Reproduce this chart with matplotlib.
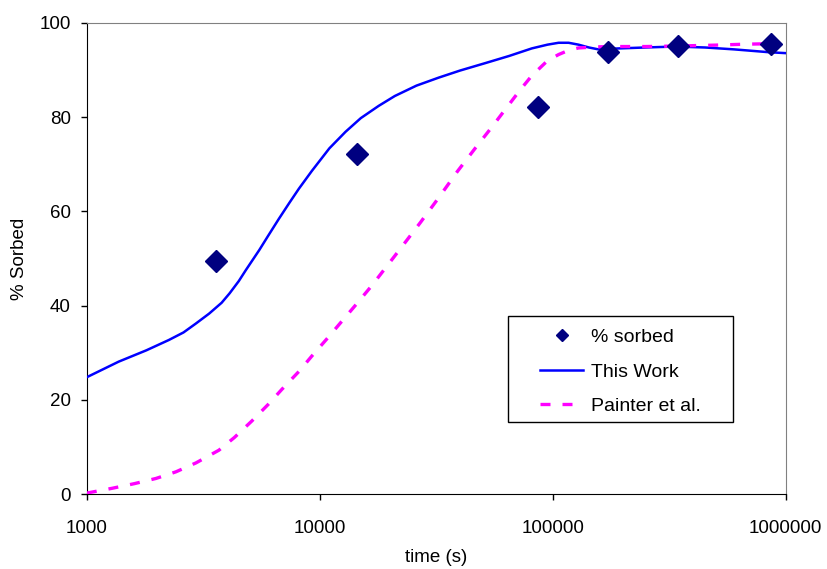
import matplotlib.pyplot as plt
from matplotlib.patches import Rectangle
from matplotlib.ticker import FixedLocator, FixedFormatter, NullLocator

plt.rcParams['font.family'] = ['Liberation Sans', 'DejaVu Sans']

# measured data
t_meas = [3600, 14400, 86400, 172800, 345600, 864000]
pct_meas = [49.5, 72.2, 82.2, 93.8, 95.1, 95.6]

# "This Work" model curve
t_work = [1000, 1370, 1800, 2250, 2600, 2940, 3350, 3790, 4100, 4490, 4810,
          5500, 6000, 6670, 7400, 8130, 9250, 11000, 12900, 15000, 17900,
          21000, 26000, 32400, 40000, 51500, 65000, 81300, 95000, 106000,
          117000, 129000, 143000, 157000, 192000, 250000, 337000, 450000,
          600000, 845000, 1000000]
pct_work = [24.8, 28.1, 30.5, 32.7, 34.3, 36.2, 38.3, 40.6, 42.6, 45.2, 47.5,
            51.8, 54.8, 58.4, 61.8, 64.8, 68.6, 73.4, 76.9, 79.8, 82.4,
            84.5, 86.7, 88.4, 89.9, 91.5, 93.0, 94.6, 95.4, 95.8,
            95.8, 95.4, 94.8, 94.4, 94.6, 94.8, 95.0, 94.8, 94.4, 93.8, 93.6]

# Painter et al. curve
t_paint = [1000, 1280, 1600, 1980, 2410, 2940, 3690, 4300, 5110, 6000, 6870,
           8130, 9250, 10800, 12400, 14300, 16700, 21800, 27000, 32400,
           39000, 46800, 55000, 62900, 72000, 81300, 95000, 106000, 117000,
           129000, 150000, 174000, 250000, 337000, 500000, 673000, 864000]
pct_paint = [0.2, 1.2, 2.2, 3.3, 4.7, 6.6, 9.3, 12.0, 15.5, 19.0, 22.2,
             26.0, 29.3, 33.1, 36.6, 40.2, 44.2, 51.6, 57.6, 62.9,
             68.5, 73.6, 78.0, 81.8, 85.6, 88.8, 92.0, 93.3, 94.2,
             94.7, 94.9, 95.0, 95.0, 95.1, 95.3, 95.5, 95.6]

xticks = [1000, 10000, 100000, 1000000]
xticklabels = ["1000", "10000", "100000", "1000000"]
yticks = [0, 20, 40, 60, 80, 100]

fig = plt.figure(figsize=(8.27, 5.69), dpi=100)
ax = fig.add_axes([0.105, 0.1318, 0.845, 0.8278])

ax.plot(t_meas, pct_meas, linestyle='none', marker='D', markersize=11,
        color='#000080', label='% sorbed', zorder=5)
ax.plot(t_work, pct_work, color='#0000ff', linewidth=1.8, label='This Work', zorder=3)
ax.plot(t_paint, pct_paint, color='#ff00ff', linewidth=2.4, dashes=(3.0, 3.6),
        label='Painter et al.', zorder=4)

ax.set_xscale('log')
ax.set_xlim(1000, 1000000)
ax.set_ylim(0, 100)
ax.xaxis.set_major_locator(FixedLocator(xticks))
ax.xaxis.set_major_formatter(FixedFormatter(xticklabels))
ax.xaxis.set_minor_locator(NullLocator())
ax.set_yticks(yticks)

ax.tick_params(axis='both', direction='out', length=4.5, width=1, labelsize=13.5)
ax.tick_params(axis='y', pad=7)
ax.tick_params(axis='x', pad=14)

for s in ['top', 'right']:
    ax.spines[s].set_color('#808080')
for s in ['left', 'bottom']:
    ax.spines[s].set_color('black')

ax.set_xlabel('time (s)', fontsize=13.5, labelpad=9)
ax.set_ylabel('% Sorbed', fontsize=13.5, labelpad=8)

# legend box like the original (frame drawn separately)
ax.add_patch(Rectangle((0.603, 0.153), 0.321, 0.225, transform=ax.transAxes,
                       facecolor='white', edgecolor='black', linewidth=1, zorder=6))
leg = ax.legend(loc='center', bbox_to_anchor=(0.603 + 0.321 / 2, 0.147 + 0.225 / 2),
                fontsize=14, frameon=False, markerscale=0.6, handlelength=2.2,
                handletextpad=0.4, labelspacing=0.86)
leg.set_zorder(7)

plt.savefig('out.png', dpi=100)
